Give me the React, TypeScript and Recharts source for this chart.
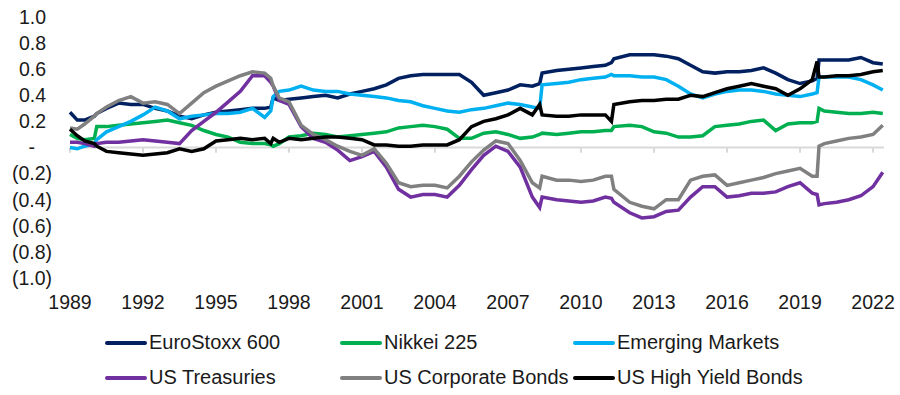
import React from "react";
import { LineChart, Line, XAxis, YAxis, ReferenceLine } from "recharts";

// dates as fractional years
const years = [
  1989.0, 1989.3, 1989.6, 1990.0, 1990.1, 1990.5, 1991.0, 1991.5, 1992.0, 1992.5,
  1993.0, 1993.5, 1994.0, 1994.5, 1995.0, 1995.5, 1996.0, 1996.5, 1997.0, 1997.25,
  1997.35, 1997.6, 1998.0, 1998.5, 1999.0, 1999.5, 2000.0, 2000.5, 2001.0, 2001.5,
  2002.0, 2002.5, 2003.0, 2003.5, 2004.0, 2004.5, 2005.0, 2005.5, 2006.0, 2006.5,
  2007.0, 2007.5, 2008.0, 2008.3, 2008.4, 2009.0, 2009.5, 2010.0, 2010.5, 2011.0,
  2011.25, 2011.35, 2012.0, 2012.5, 2013.0, 2013.5, 2014.0, 2014.5, 2015.0, 2015.5,
  2016.0, 2016.5, 2017.0, 2017.5, 2018.0, 2018.5, 2019.0, 2019.5, 2019.7, 2019.78,
  2020.0, 2020.5, 2021.0, 2021.5, 2022.0, 2022.4,
];

const euroStoxx = [
  0.27, 0.21, 0.21, 0.24, 0.26, 0.30, 0.34, 0.33, 0.33, 0.30,
  0.28, 0.24, 0.22, 0.25, 0.27, 0.28, 0.29, 0.30, 0.30, 0.31,
  0.38, 0.36, 0.37, 0.38, 0.39, 0.40, 0.38, 0.41, 0.43, 0.45,
  0.48, 0.53, 0.55, 0.56, 0.56, 0.56, 0.56, 0.50, 0.40, 0.42,
  0.44, 0.48, 0.47, 0.49, 0.57, 0.59, 0.60, 0.61, 0.62, 0.63,
  0.65, 0.68, 0.71, 0.71, 0.71, 0.70, 0.68, 0.63, 0.58, 0.57,
  0.58, 0.58, 0.59, 0.61, 0.57, 0.52, 0.49, 0.51, 0.53, 0.67,
  0.67, 0.67, 0.67, 0.69, 0.65, 0.64,
];

const nikkei = [
  0.10, 0.07, 0.06, 0.07, 0.16, 0.16, 0.17, 0.18, 0.19, 0.20,
  0.21, 0.19, 0.17, 0.13, 0.10, 0.08, 0.04, 0.03, 0.03, 0.02,
  0.01, 0.03, 0.08, 0.09, 0.11, 0.10, 0.08, 0.09, 0.10, 0.11,
  0.12, 0.15, 0.16, 0.17, 0.16, 0.14, 0.07, 0.07, 0.11, 0.12,
  0.10, 0.07, 0.08, 0.10, 0.11, 0.10, 0.11, 0.12, 0.12, 0.13,
  0.13, 0.16, 0.17, 0.16, 0.12, 0.11, 0.08, 0.08, 0.09, 0.16,
  0.17, 0.18, 0.20, 0.21, 0.13, 0.18, 0.19, 0.19, 0.20, 0.30,
  0.28, 0.27, 0.26, 0.26, 0.27, 0.26,
];

const emergingMarkets = [
  0.00, -0.01, 0.01, 0.03, 0.06, 0.12, 0.16, 0.20, 0.25, 0.31,
  0.28, 0.22, 0.24, 0.25, 0.26, 0.26, 0.27, 0.30, 0.23, 0.28,
  0.39, 0.43, 0.44, 0.47, 0.44, 0.43, 0.43, 0.41, 0.40, 0.39,
  0.38, 0.36, 0.35, 0.32, 0.30, 0.28, 0.27, 0.29, 0.30, 0.32,
  0.34, 0.33, 0.31, 0.30, 0.48, 0.49, 0.50, 0.52, 0.53, 0.54,
  0.56, 0.55, 0.55, 0.54, 0.54, 0.52, 0.47, 0.41, 0.38, 0.41,
  0.43, 0.44, 0.44, 0.43, 0.41, 0.40, 0.39, 0.41, 0.42, 0.54,
  0.54, 0.54, 0.54, 0.52, 0.48, 0.44,
];

const usTreasuries = [
  0.04, 0.04, 0.03, 0.01, 0.03, 0.04, 0.04, 0.05, 0.06, 0.05,
  0.04, 0.03, 0.13, 0.20, 0.27, 0.35, 0.43, 0.55, 0.55, 0.50,
  0.47, 0.36, 0.33, 0.16, 0.07, 0.04, -0.02, -0.10, -0.07, -0.03,
  -0.15, -0.32, -0.38, -0.36, -0.36, -0.38, -0.29, -0.17, -0.06, 0.01,
  -0.03, -0.15, -0.38, -0.46, -0.38, -0.40, -0.41, -0.42, -0.41, -0.38,
  -0.39, -0.42, -0.50, -0.54, -0.53, -0.49, -0.48, -0.38, -0.30, -0.30,
  -0.38, -0.37, -0.35, -0.35, -0.34, -0.30, -0.27, -0.35, -0.36, -0.44,
  -0.43, -0.42, -0.40, -0.37, -0.30, -0.19,
];

const usCorporate = [
  0.15, 0.14, 0.18, 0.24, 0.26, 0.31, 0.36, 0.39, 0.34, 0.35,
  0.33, 0.26, 0.34, 0.42, 0.47, 0.51, 0.55, 0.58, 0.57, 0.53,
  0.47, 0.38, 0.35, 0.17, 0.10, 0.06, 0.01, -0.03, -0.06, -0.01,
  -0.12, -0.27, -0.30, -0.29, -0.29, -0.31, -0.22, -0.11, -0.02, 0.05,
  0.03, -0.10, -0.27, -0.31, -0.22, -0.25, -0.25, -0.26, -0.25, -0.22,
  -0.22, -0.32, -0.42, -0.45, -0.47, -0.40, -0.40, -0.25, -0.22, -0.21,
  -0.29, -0.27, -0.25, -0.23, -0.20, -0.18, -0.16, -0.22, -0.22, 0.01,
  0.03, 0.05, 0.07, 0.08, 0.10, 0.17,
];

const usHighYield = [
  0.14, 0.09, 0.05, 0.03, 0.01, -0.03, -0.04, -0.05, -0.06, -0.05,
  -0.04, -0.01, -0.03, -0.01, 0.05, 0.06, 0.07, 0.06, 0.07, 0.03,
  0.07, 0.04, 0.07, 0.06, 0.07, 0.08, 0.08, 0.07, 0.06, 0.02,
  0.02, 0.01, 0.01, 0.02, 0.02, 0.02, 0.06, 0.16, 0.20, 0.22,
  0.25, 0.30, 0.25, 0.33, 0.25, 0.24, 0.24, 0.25, 0.25, 0.25,
  0.20, 0.33, 0.35, 0.36, 0.36, 0.37, 0.37, 0.40, 0.39, 0.42,
  0.45, 0.47, 0.49, 0.47, 0.45, 0.40, 0.45, 0.52, 0.66, 0.54,
  0.54, 0.55, 0.55, 0.56, 0.58, 0.59,
];

const xTicks = [1989, 1992, 1995, 1998, 2001, 2004, 2007, 2010, 2013, 2016, 2019, 2022];
const yTicks = [-1, -0.8, -0.6, -0.4, -0.2, 0, 0.2, 0.4, 0.6, 0.8, 1];

const series = [
  { key: "euroStoxx", name: "EuroStoxx 600", color: "#002060", values: euroStoxx },
  { key: "nikkei", name: "Nikkei 225", color: "#00b050", values: nikkei },
  { key: "em", name: "Emerging Markets", color: "#00b0f0", values: emergingMarkets },
  { key: "ust", name: "US Treasuries", color: "#7030a0", values: usTreasuries },
  { key: "corp", name: "US Corporate Bonds", color: "#808080", values: usCorporate },
  { key: "hy", name: "US High Yield Bonds", color: "#000000", values: usHighYield },
];

const data = years.map((year, i) => {
  const row: Record<string, number> = { year };
  series.forEach((s) => {
    row[s.key] = s.values[i];
  });
  return row;
});

const FONT = "'Liberation Sans', Arial, sans-serif";
const TEXT = "#1a1a1a";

function YTick({ x, y, payload }: any) {
  const v = payload.value as number;
  if (Math.abs(v) < 1e-9) {
    return (
      <text x={x - 17} y={y} dy="0.35em" textAnchor="end" fill={TEXT} fontSize={19.5} fontFamily={FONT}>
        -
      </text>
    );
  }
  const label = v > 0 ? v.toFixed(1) : `(${Math.abs(v).toFixed(1)})`;
  return (
    <text x={v > 0 ? x - 6 : x} y={y} dy="0.35em" textAnchor="end" fill={TEXT} fontSize={19.5} fontFamily={FONT}>
      {label}
    </text>
  );
}

function ChartLegend() {
  return (
    <div
      style={{
        position: "absolute",
        left: 105,
        top: 325,
        display: "grid",
        gridTemplateColumns: "235px 233px 240px",
        gridAutoRows: "35px",
        fontFamily: FONT,
        fontSize: 20,
        color: TEXT,
        whiteSpace: "nowrap",
      }}
    >
      {series.map((s) => (
        <div key={s.key} style={{ display: "flex", alignItems: "center" }}>
          <span
            style={{
              display: "inline-block",
              width: 42,
              height: 4,
              borderRadius: 2,
              background: s.color,
              marginRight: 2,
            }}
          />
          <span>{s.name}</span>
        </div>
      ))}
    </div>
  );
}

export default function App() {
  return (
    <div style={{ position: "absolute", left: 0, top: 0, width: 900, height: 395, background: "#fff" }}>
      <LineChart
        width={900}
        height={320}
        data={data}
        margin={{ top: 17, right: 16, left: 0, bottom: 12 }}
      >
        <XAxis
          dataKey="year"
          type="number"
          domain={[1989, 2022.45]}
          ticks={xTicks}
          axisLine={false}
          tickLine={false}
          tickMargin={11}
          height={30}
          tick={{ fill: TEXT, fontSize: 19.5, fontFamily: FONT }}
        />
        <YAxis
          type="number"
          domain={[-1, 1]}
          ticks={yTicks}
          width={70}
          axisLine={false}
          tickLine={false}
          tickMargin={12}
          tick={<YTick />}
        />
        <ReferenceLine y={0} stroke="#d9d9d9" strokeWidth={2} />
        {xTicks.map((t) => (
          <ReferenceLine
            key={t}
            segment={[
              { x: t, y: 0 },
              { x: t, y: -0.04 },
            ]}
            stroke="#d9d9d9"
            strokeWidth={2}
          />
        ))}
        {series.map((s) => (
          <Line
            key={s.key}
            type="linear"
            dataKey={s.key}
            name={s.name}
            stroke={s.color}
            strokeWidth={3.5}
            dot={false}
            isAnimationActive={false}
          />
        ))}
      </LineChart>
      <ChartLegend />
    </div>
  );
}
